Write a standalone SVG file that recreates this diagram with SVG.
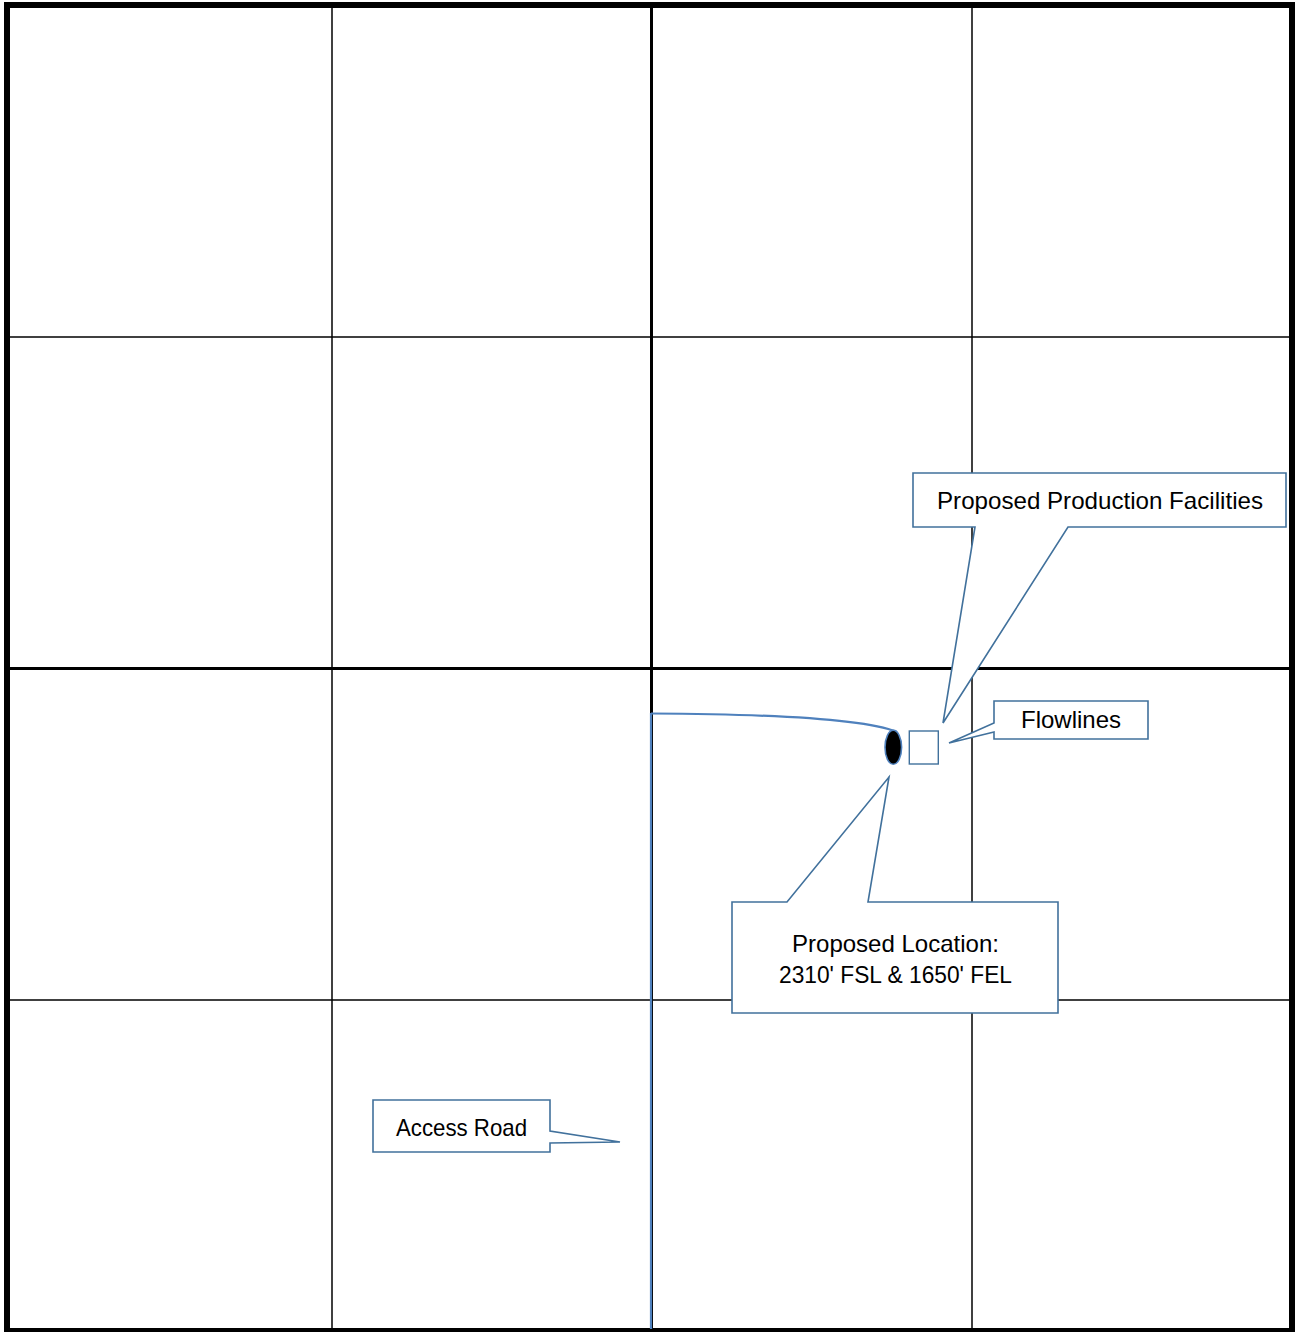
<svg xmlns="http://www.w3.org/2000/svg" width="1296" height="1332" viewBox="0 0 1296 1332">
  <style>
    .thin { stroke: #000; stroke-width: 1.5; fill: none; }
    .thick { stroke: #000; stroke-width: 3; fill: none; }
    .callout { fill: #fff; stroke: #41719C; stroke-width: 1.6; stroke-linejoin: miter; }
    .road { fill: none; stroke: #4F81BD; stroke-width: 2.2; }
    .lbl { font-family: "Liberation Sans", Arial, sans-serif; font-size: 24px; fill: #000; }
  </style>
  <rect x="0" y="0" width="1296" height="1332" fill="#fff"/>
  <g id="grid">
    <line class="thin" x1="332" y1="5" x2="332" y2="1330"/>
    <line class="thin" x1="972" y1="5" x2="972" y2="1330"/>
    <line class="thin" x1="7" y1="337" x2="1291" y2="337"/>
    <line class="thin" x1="7" y1="1000" x2="1291" y2="1000"/>
    <line class="thick" x1="651.5" y1="5" x2="651.5" y2="1330"/>
    <line class="thick" x1="7" y1="668.5" x2="1291" y2="668.5"/>
    <rect x="7" y="5" width="1285" height="1326" fill="none" stroke="#000" stroke-width="6"/>
  </g>
  <g id="connectors">
    <path class="road" d="M651,713.5 C760,714 862,718 897,732"/>
    <line class="road" x1="651" y1="713" x2="651" y2="1329"/>
  </g>
  <g id="well">
    <ellipse cx="893.3" cy="747.3" rx="8.3" ry="17" fill="#000" stroke="#4F81BD" stroke-width="1.6"/>
  </g>
  <g id="facility">
    <rect x="909.3" y="731" width="29" height="33" fill="#fff" stroke="#41719C" stroke-width="1.4"/>
  </g>
  <g id="callout-production">
    <path class="callout" d="M913,473 H1286 V527 H1068 L943,723 L975,527 H913 Z"/>
    <text class="lbl" x="937" y="509" textLength="326" lengthAdjust="spacingAndGlyphs">Proposed Production Facilities</text>
  </g>
  <g id="callout-flowlines">
    <path class="callout" d="M994,701 H1148 V739 H994 V732 L949,743 L994,723 Z"/>
    <text class="lbl" x="1021" y="728" textLength="100" lengthAdjust="spacingAndGlyphs">Flowlines</text>
  </g>
  <g id="callout-location">
    <path class="callout" d="M732,902 H787 L889,777 L868,902 H1058 V1013 H732 Z"/>
    <text class="lbl" x="792" y="951.5" textLength="207" lengthAdjust="spacingAndGlyphs">Proposed Location:</text>
    <text class="lbl" x="779" y="982.5" textLength="233" lengthAdjust="spacingAndGlyphs">2310' FSL &amp; 1650' FEL</text>
  </g>
  <g id="callout-access">
    <path class="callout" d="M373,1100 H550 V1131 L620,1142 L550,1143 V1152 H373 Z"/>
    <text class="lbl" x="396" y="1136" textLength="131" lengthAdjust="spacingAndGlyphs">Access Road</text>
  </g>
</svg>
